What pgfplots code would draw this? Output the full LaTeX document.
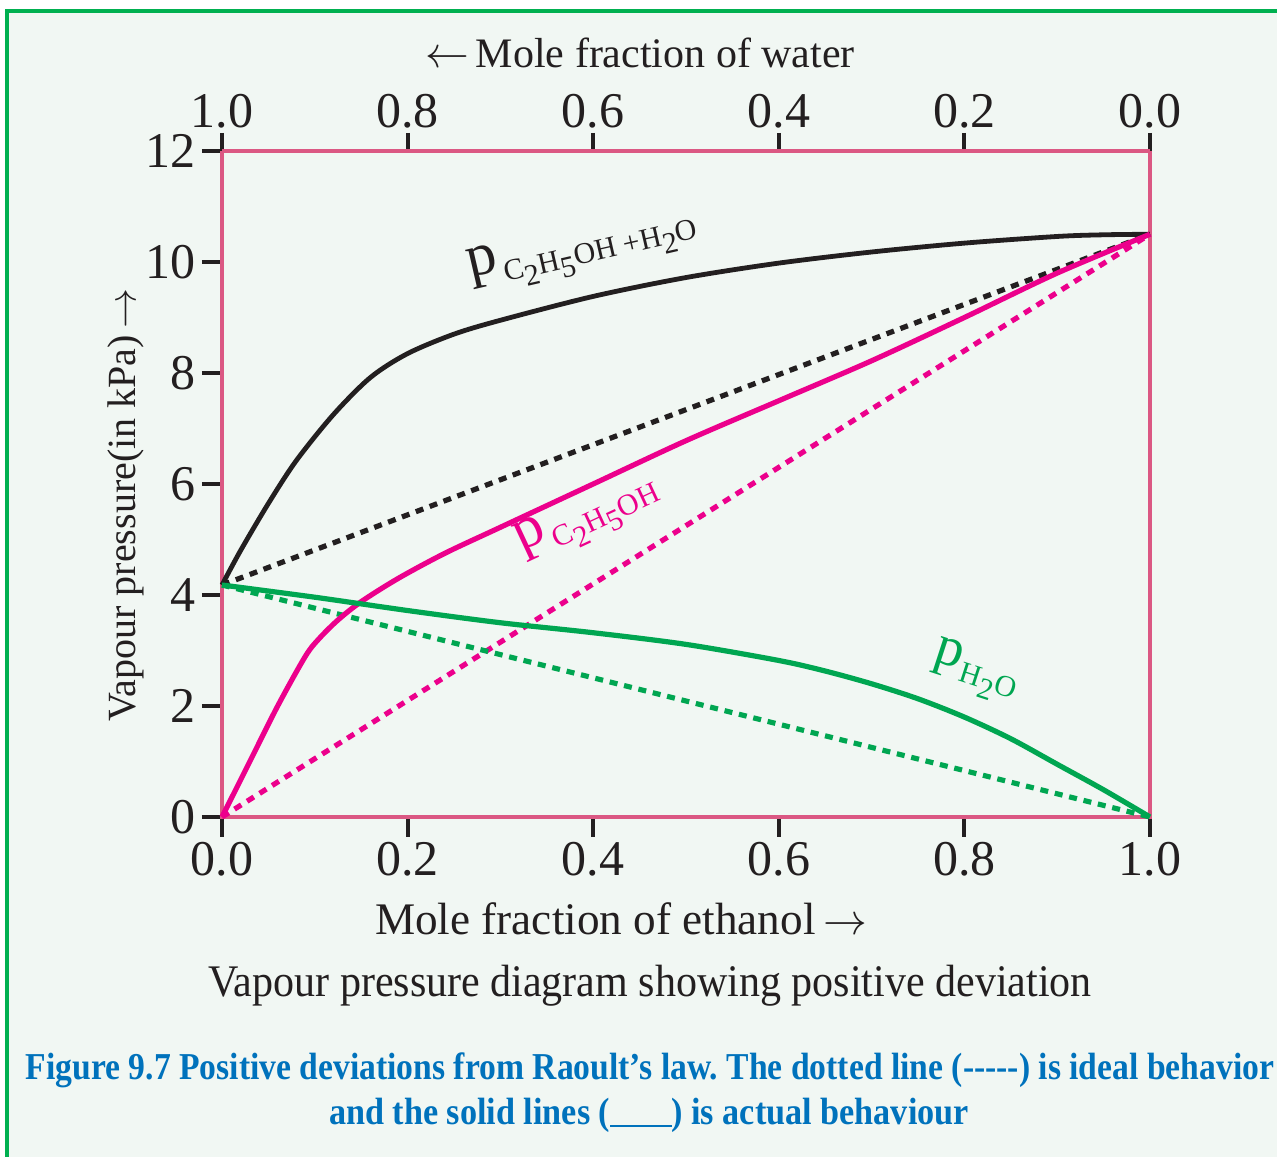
\documentclass[border=0pt]{standalone}
\usepackage{fontspec}
\setmainfont{Liberation Serif}
\usepackage{graphicx}
\usepackage{pgfplots}
\pgfplotsset{compat=1.18}
\definecolor{bg}{RGB}{241,247,243}
\definecolor{gborder}{RGB}{0,176,80}
\definecolor{frame}{RGB}{219,88,131}
\definecolor{mag}{RGB}{236,0,140}
\definecolor{grn}{RGB}{0,166,81}
\definecolor{blk}{RGB}{35,31,32}
\definecolor{capblue}{RGB}{0,114,188}
\newcommand{\fs}[1]{\fontsize{#1}{#1}\selectfont}
\frenchspacing
\begin{document}
\begin{tikzpicture}
\path[use as bounding box] (0,0) rectangle (319.25pt,289.25pt);
\fill[white] (0,0) rectangle (319.25pt,289.25pt);
\fill[bg] (1.75pt,0) rectangle (319.25pt,286.5pt);
\draw[gborder, line width=0.8pt] (1.75pt,0) -- (1.75pt,286.5pt) -- (319.25pt,286.5pt);
\begin{axis}[
  at={(55.5pt,85pt)}, anchor=south west,
  scale only axis, width=232pt, height=166.5pt,
  xmin=0, xmax=1, ymin=0, ymax=12,
  clip=false,
  axis line style={frame, line width=0.8pt},
  tick pos=left, tick align=outside,
  major tick length=5pt,
  tick style={blk, line width=1pt},
  xtick={0,0.2,0.4,0.6,0.8,1},
  xticklabels={0.0,0.2,0.4,0.6,0.8,1.0},
  ytick={0,2,4,6,8,10,12},
  /pgf/number format/assume math mode=true,
  ticklabel style={font=\fs{12.5}, text=blk},
  xticklabel style={inner sep=1pt},
  yticklabel style={inner sep=1.5pt},
]
\addplot[blk, line width=1.3pt, dash pattern=on 2pt off 1.7pt] coordinates {(0,4.18) (1,10.5)};
\addplot[mag, line width=1.3pt, dash pattern=on 2pt off 1.7pt] coordinates {(0,0) (1,10.5)};
\addplot[grn, line width=1.3pt, dash pattern=on 2pt off 1.7pt] coordinates {(0,4.18) (1,0)};
\addplot[blk, line width=1.2pt, smooth, tension=0.5] coordinates {
(0,4.18) (0.02,4.8) (0.05,5.65) (0.08,6.42) (0.12,7.25) (0.16,7.92) (0.2,8.35) (0.25,8.7) (0.3,8.95) (0.4,9.38) (0.5,9.72) (0.6,9.98) (0.7,10.18) (0.8,10.34) (0.9,10.46) (0.95,10.49) (1,10.5)};
\addplot[mag, line width=1.3pt, smooth, tension=0.5] coordinates {
(0,0) (0.03,1.0) (0.06,2.0) (0.09,2.9) (0.105,3.22) (0.125,3.55) (0.15,3.88) (0.19,4.3) (0.24,4.75) (0.3,5.22) (0.4,6.0) (0.5,6.78) (0.6,7.5) (0.7,8.22) (0.8,9.0) (0.9,9.8) (1,10.5)};
\addplot[grn, line width=1.3pt, smooth, tension=0.5] coordinates {
(0,4.18) (0.1,3.96) (0.2,3.72) (0.3,3.5) (0.4,3.32) (0.5,3.11) (0.6,2.82) (0.65,2.63) (0.7,2.4) (0.75,2.13) (0.8,1.8) (0.85,1.41) (0.9,0.95) (0.95,0.49) (1,0)};
\node[anchor=base west, rotate=13, inner sep=0, text=blk] at (axis cs:0.267,9.71)
 {\fs{15}p\kern1pt\fs{7.5}\raisebox{-3pt}{C\raisebox{-2.3pt}{2}H\raisebox{-2.3pt}{5}OH +H\raisebox{-2.3pt}{2}O}};
\node[anchor=base west, rotate=25, inner sep=0, text=mag] at (axis cs:0.322,4.77)
 {\fs{15}p\kern1pt\fs{7.5}\raisebox{-3pt}{C\raisebox{-2.3pt}{2}H\raisebox{-2.3pt}{5}OH}};
\node[anchor=base west, rotate=-18, inner sep=0, text=grn] at (axis cs:0.765,2.83)
 {\fs{14}p\kern0.5pt\fs{7.5}\raisebox{-3pt}{H\raisebox{-2.3pt}{2}O}};
\end{axis}
\begin{axis}[
  at={(55.5pt,85pt)}, anchor=south west,
  scale only axis, width=232pt, height=166.5pt,
  xmin=0, xmax=1, ymin=0, ymax=12,
  x dir=reverse,
  axis x line*=top, axis y line=none,
  axis line style={frame, line width=0.8pt},
  tick align=outside,
  major tick length=4.5pt,
  tick style={blk, line width=1pt},
  xtick={0,0.2,0.4,0.6,0.8,1},
  xticklabels={0.0,0.2,0.4,0.6,0.8,1.0},
  /pgf/number format/assume math mode=true,
  ticklabel style={font=\fs{12.5}, text=blk},
  xticklabel style={inner sep=1pt},
]
\addplot[draw=none] coordinates {(0,0) (1,12)};
\end{axis}
\node[anchor=base, text=blk, font=\fs{10.5}] at (160pt,272.25pt) {$\leftarrow$\,Mole fraction of water};
\node[anchor=base, text=blk, font=\fs{11.3}] at (155.25pt,55.5pt) {Mole fraction of ethanol\,$\rightarrow$};
\node[anchor=base, text=blk, font=\fs{11.3}] at (162.5pt,40pt) {\scalebox{0.93}[1]{Vapour pressure diagram showing positive deviation}};
\node[rotate=90, text=blk, font=\fs{10}] at (31.5pt,163pt) {Vapour pressure(in kPa)\,$\rightarrow$};
\node[anchor=base, text=capblue, font=\fs{9.5}\bfseries, inner sep=0] at (162.5pt,19.25pt)
 {\scalebox{0.885}[1]{Figure 9.7 Positive deviations from Raoult’s law. The dotted line (-{}-{}-{}-{}-) is ideal behavior}};
\node[anchor=base, text=capblue, font=\fs{9.5}\bfseries, inner sep=0] at (162.25pt,8pt)
 {\scalebox{0.9}[1]{and the solid lines (\rule[-0.6pt]{17pt}{0.6pt}) is actual behaviour}};
\end{tikzpicture}
\end{document}
